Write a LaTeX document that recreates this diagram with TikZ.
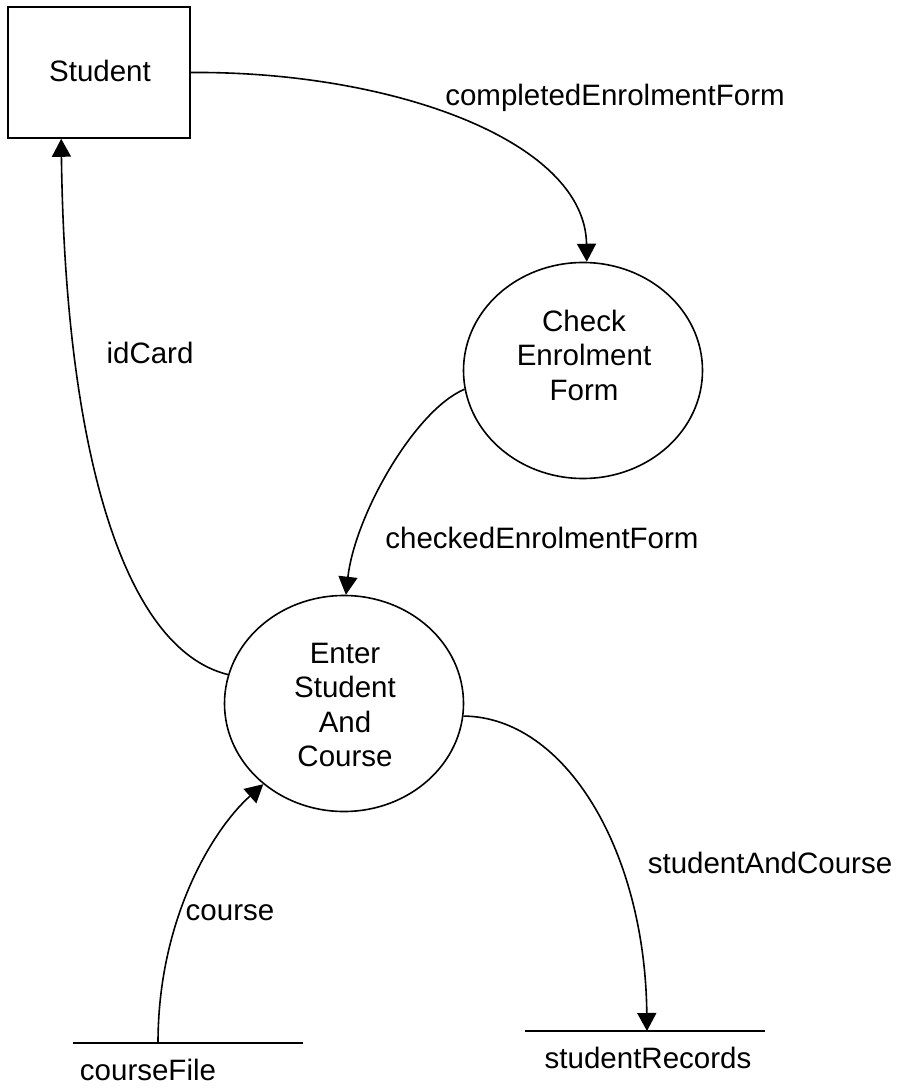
\documentclass[tikz,border=0pt]{standalone}
\usepackage{fontspec}
\setmainfont{Liberation Sans}
\usetikzlibrary{arrows.meta,shapes.geometric}
\tikzset{
  base/.style={font=\fontsize{29.5}{34.5}\selectfont},
  ext/.style={draw, line width=1.6pt, minimum width=182pt, minimum height=131pt, inner sep=0pt},
  proc/.style={draw, ellipse, line width=1.6pt, minimum width=239pt, minimum height=216pt, inner sep=0pt},
  txt/.style={align=center, inner sep=0pt},
  flow/.style={line width=1.6pt, -{Triangle[length=18pt,width=19pt]}},
  storeline/.style={line width=1.6pt}
}
\begin{document}
\begin{tikzpicture}[x=1pt, y=-1pt, base]
\useasboundingbox (0,0) rectangle (898,1091);
% external entity
\node[ext] (student) at (99,72.5) {};
\node[txt] (studentT) at (100,71) {Student};
% processes
\node[proc] (check) at (583,370.5) {};
\node[txt] (checkT) at (584,355) {Check\\Enrolment\\Form};
\node[proc] (enter) at (344,703.5) {};
\node[txt] (enterT) at (345,705) {Enter\\Student\\And\\Course};
% data stores
\coordinate (cfL) at (73,1043);
\coordinate (cfR) at (303,1043);
\coordinate (cfP) at (158,1043);
\draw[storeline] (cfL) -- (cfR);
\node[txt] (courseFile) at (148,1070) {courseFile};
\coordinate (srL) at (525,1031);
\coordinate (srR) at (765,1031);
\coordinate (srP) at (647,1031);
\draw[storeline] (srL) -- (srR);
\node[txt] (studentRecords) at (648,1058) {studentRecords};
% flows
\draw[flow] (student.east) .. controls (390,71) and (585,140) .. (check.88);
\draw[flow] (check.189) .. controls (415,410) and (355,515) .. (enter.89);
\draw[flow] (enter.166) .. controls (120,648) and (65,440) .. ([xshift=54pt]student.south west);
\draw[flow] (enter.-6) .. controls (565,717) and (645,850) .. (srP);
\draw[flow] (cfP) .. controls (158,920) and (212,830) .. (enter.225);
% flow labels
\node[txt] (l1) at (615,98) {completedEnrolmentForm};
\node[txt] (l2) at (542,538) {checkedEnrolmentForm};
\node[txt] (l3) at (150,353) {idCard};
\node[txt] (l4) at (770,863) {studentAndCourse};
\node[txt] (l5) at (230,913) {course};
\end{tikzpicture}
\end{document}
